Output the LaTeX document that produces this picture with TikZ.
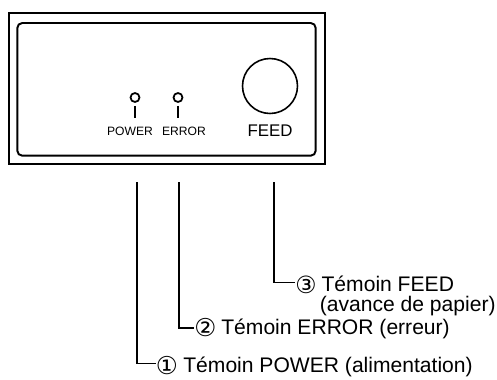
\documentclass[tikz,border=0pt]{standalone}
\usepackage{fontspec}
\setmainfont{Liberation Sans}
\newfontfamily\circfont{DejaVu Sans}

\begin{document}
\begin{tikzpicture}[x=0.02cm, y=-0.02cm,
        panel/.style={draw, line width=1.3pt},
        led/.style={draw, circle, line width=1pt, inner sep=0pt, minimum size=0.18cm},
        keycap/.style={font=\fontsize{6.9}{8}\selectfont, inner sep=0pt},
        lbl/.style={font=\fontsize{12}{11}\selectfont, inner sep=0pt, anchor=base west, align=left},
        num/.style={font=\circfont\fontsize{14}{16}\selectfont, inner sep=0pt},
        lead/.style={line width=0.7pt}
    ]
    \useasboundingbox (0,0) rectangle (497,379);

    % Front panel
    \draw[panel] (8.7,13.3) rectangle (325,164.3);
    \draw[panel, line width=1.1pt, rounded corners=0.1cm] (17.3,23) rectangle (315.7,155.7);

    % LEDs
    \node[led] (led_power) at (135,97.5) {};
    \node[led] (led_error) at (178,97.5) {};
    \draw[lead, line width=1pt] (led_power.south) ++(0,3) -- (135,118);
    \draw[lead, line width=1pt] (led_error.south) ++(0,3) -- (178,118);
    \node[keycap] (cap_power) at (130,131) {POWER};
    \node[keycap] (cap_error) at (184,131) {ERROR};

    % FEED button
    \node[draw, circle, line width=0.9pt, minimum size=1.1cm, inner sep=0pt] (btn_feed) at (270,86) {};
    \node[font=\fontsize{9.6}{11}\selectfont, inner sep=0pt] (cap_feed) at (270,131) {FEED};

    % Leader start points
    \coordinate (top_power) at (137,182);
    \coordinate (top_error) at (179,182);
    \coordinate (top_feed) at (274,182);

    % Labels
    \node[num, font=\circfont\fontsize{13.5}{15}\selectfont] (num_feed) at (306,285) {③};
    \node[lbl] (lbl_feed) at (319.5,311) {\hspace{1pt}Témoin FEED\\(avance de papier)};

    \node[num] (num_error) at (205.5,328) {②};
    \node[lbl] (lbl_error) at (221,334) {Témoin ERROR (erreur)};

    \node[num] (num_power) at (167,365.5) {①};
    \node[lbl] (lbl_power) at (183,372) {Témoin POWER (alimentation)};

    % Leaders
    \draw[lead] (top_feed) |- ([yshift=0.05cm]num_feed.west);
    \draw[lead] (top_error) |- (num_error.west);
    \draw[lead] (top_power) |- ([yshift=0.04cm]num_power.west);
\end{tikzpicture}
\end{document}
